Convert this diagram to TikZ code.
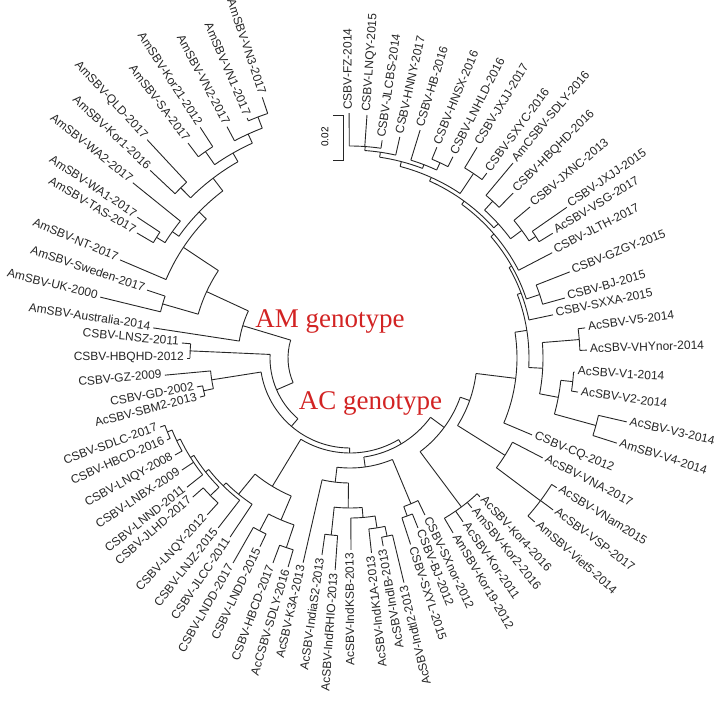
\documentclass[tikz,border=0pt]{standalone}
\usepackage{fontspec}
\setmainfont{Liberation Sans}
\newfontfamily\serifred{Liberation Serif}
\definecolor{genored}{RGB}{210,35,35}
\newcommand\setA[2]{\expandafter\xdef\csname trA:#1\endcsname{#2}}
\newcommand\setR[2]{\expandafter\xdef\csname trR:#1\endcsname{#2}}
\newcommand\getA[1]{\csname trA:#1\endcsname}
\newcommand\getR[1]{\csname trR:#1\endcsname}
\newcommand\leaf[4]{%
  \setA{#1}{#2}\setR{#1}{#3}%
  \pgfmathsetmacro\lfa{mod(#2+720,360)}%
  \pgfmathsetmacro\lfr{#3+3}%
  \pgfmathtruncatemacro\lfs{(\lfa>90.5)*(\lfa<285)}%
  \ifnum\lfs=1
    \pgfmathsetmacro\lfrot{\lfa+180}%
    \node[lbl,anchor=mid east,rotate=\lfrot] (L#1) at (#2:\lfr pt) {#4};%
  \else
    \node[lbl,anchor=mid west,rotate=\lfa] (L#1) at (#2:\lfr pt) {#4};%
  \fi
}
\newcommand\clade[3]{%
  \gdef\cmin{1000}\gdef\cmax{-1000}%
  \foreach \ch in {#3}{%
    \edef\cang{\getA{\ch}}%
    \pgfmathsetmacro\cmid{min(\cmin,\cang)}\xdef\cmin{\cmid}%
    \pgfmathsetmacro\cmid{max(\cmax,\cang)}\xdef\cmax{\cmid}%
  }%
  \draw[br] (\cmin:#2pt) arc[start angle=\cmin, end angle=\cmax, radius=#2pt];%
  \foreach \ch in {#3}{%
    \edef\cang{\getA{\ch}}\edef\crad{\getR{\ch}}%
    \draw[br] (\cang:#2pt) -- (\cang:\crad pt);%
  }%
  \pgfmathsetmacro\cmid{(\cmin+\cmax)/2}%
  \setA{#1}{\cmid}\setR{#1}{#2}%
}
\begin{document}
\begin{tikzpicture}[x=1pt,y=1pt,
  lbl/.style={font=\fontsize{12}{14}\selectfont, inner sep=0pt, text=black!85},
  br/.style={line width=0.9pt, black!85},
  geno/.style={font=\serifred\fontsize{27}{30}\selectfont, text=genored, inner sep=0pt}]
\useasboundingbox (-350,-348) rectangle (367,358);
% leaves
\leaf{FZ}{450.2}{245}{CSBV-FZ-2014}
\leaf{LNQYa}{446.0}{243.6}{CSBV-LNQY-2015}
\leaf{JLCBS}{441.6}{220}{CSBV-JLCBS-2014}
\leaf{HNNY}{437.3}{226.6}{CSBV-HNNY-2017}
\leaf{HB}{432.9}{238.5}{CSBV-HB-2016}
\leaf{HNSX}{427.6}{228}{CSBV-HNSX-2016}
\leaf{LNHLD}{422.9}{226}{CSBV-LNHLD-2016}
\leaf{JXJJa}{418.9}{246}{CSBV-JXJJ-2017}
\leaf{SXYC}{413.5}{230}{CSBV-SXYC-2016}
\leaf{AmSDLY}{410.1}{254}{AmCSBV-SDLY-2016}
\leaf{HBQHDa}{405.3}{232}{CSBV-HBQHD-2016}
\leaf{JXNC}{400.0}{235}{CSBV-JXNC-2013}
\leaf{JXJJb}{394.8}{264}{CSBV-JXJJ-2015}
\leaf{VSG}{391.6}{238}{AcSBV-VSG-2017}
\leaf{JLTH}{387.5}{228}{CSBV-JLTH-2017}
\leaf{GZGY}{381.4}{236}{CSBV-GZGY-2015}
\leaf{BJa}{375.6}{223}{CSBV-BJ-2015}
\leaf{SXXA}{372.0}{207.5}{CSBV-SXXA-2015}
\leaf{Vfive}{367.3}{237}{AcSBV-V5-2014}
\leaf{VHY}{361.9}{237}{AcSBV-VHYnor-2014}
\leaf{Vone}{356.4}{225}{AcSBV-V1-2014}
\leaf{Vtwo}{351.5}{230.5}{AcSBV-V2-2014}
\leaf{Vthree}{347.0}{284}{AcSBV-V3-2014}
\leaf{Vfour}{342.3}{280}{AmSBV-V4-2014}
\leaf{CQ}{337.1}{197.6}{CSBV-CQ-2012}
\leaf{VNA}{332.6}{217}{AcSBV-VNA-2017}
\leaf{VNam}{327.9}{244}{AcSBV-VNam2015}
\leaf{VSP}{323.2}{253.6}{AcSBV-VSP-2017}
\leaf{Viet}{318.4}{247}{AmSBV-Viet5-2014}
\leaf{Korfour}{313.1}{190}{AcSBV-Kor4-2016}
\leaf{Kortwo}{309.1}{193}{AmSBV-Kor2-2016}
\leaf{Kor}{304.6}{199}{AcSBV-Kor-2011}
\leaf{Kornt}{300.5}{203}{AmSBV-Kor19-2012}
\leaf{SXnor}{295.5}{174}{CSBV-SXnor-2012}
\leaf{BJb}{291.8}{183}{CSBV-BJ-2012}
\leaf{SXYL}{288.0}{196}{CSBV-SXYL-2015}
\leaf{Indt}{283.5}{231}{AcSBV-Indtl2-2013}
\leaf{IndIB}{280.0}{191}{AcSBV-IndIB-2013}
\leaf{IndKA}{276.3}{196}{AcSBV-IndK1A-2013}
\leaf{IndKSB}{270.3}{192}{AcSBV-IndKSB-2013}
\leaf{IndRH}{266.0}{212.5}{AcSBV-IndRHIO-2013}
\leaf{IndiaS}{261.9}{199}{AcSBV-IndiaS2-2013}
\leaf{KthreeA}{257.1}{210}{AcSBV-K3A-2013}
\leaf{AcSDLY}{253.5}{218}{AcCSBV-SDLY-2016}
\leaf{HBCDa}{249.4}{219}{CSBV-HBCD-2017}
\leaf{LNDDa}{244.5}{209}{CSBV-LNDD-2015}
\leaf{LNDDb}{240.3}{236}{CSBV-LNDD-2017}
\leaf{JLCC}{236.2}{215.5}{CSBV-JLCC-2011}
\leaf{LNJZ}{232.2}{215}{CSBV-LNJZ-2015}
\leaf{LNQYb}{227.7}{212}{CSBV-LNQY-2012}
\leaf{JLHD}{221.5}{210}{CSBV-JLHD-2017}
\leaf{LNND}{218.4}{208}{CSBV-LNND-2011}
\leaf{LNBX}{213.7}{202}{CSBV-LNBX-2009}
\leaf{LNQYc}{209.0}{200}{CSBV-LNQY-2008}
\leaf{HBCDb}{204.1}{200.5}{CSBV-HBCD-2016}
\leaf{SDLC}{200.0}{202}{CSBV-SDLC-2017}
\leaf{SBM}{194.6}{155}{AcSBV-SBM2-2013}
\leaf{GD}{190.7}{155.7}{CSBV-GD-2002}
\leaf{GZ}{185.3}{186}{CSBV-GZ-2009}
\leaf{HBQHDb}{180.0}{163}{CSBV-HBQHD-2012}
\leaf{LNSZ}{174.9}{168.7}{CSBV-LNSZ-2011}
\leaf{Aus}{171.3}{199}{AmSBV-Australia-2014}
\leaf{UK}{166.3}{257}{AmSBV-UK-2000}
\leaf{Swe}{161.5}{214}{AmSBV-Sweden-2017}
\leaf{NT}{156.9}{250}{AmSBV-NT-2017}
\leaf{TAS}{149.6}{247}{AmSBV-TAS-2017}
\leaf{WAone}{146.5}{255}{AmSBV-WA1-2017}
\leaf{WAtwo}{141.1}{279}{AmSBV-WA2-2017}
\leaf{Korone}{136.8}{274}{AmSBV-Kor1-2016}
\leaf{QLD}{132.9}{298}{AmSBV-QLD-2017}
\leaf{SA}{127.0}{269}{AmSBV-SA-2017}
\leaf{Kortwoone}{123.0}{275}{AmSBV-Kor21-2012}
\leaf{VNtwo}{118.0}{262}{AmSBV-VN2-2017}
\leaf{VNone}{113.2}{261}{AmSBV-VN1-2017}
\leaf{VNthree}{108.6}{275}{AmSBV-VN3-2017}
% AC clade
\clade{Ea}{212}{FZ,LNQYa,JLCBS}
\clade{Eb}{208}{Ea,HNNY}
\clade{Ec}{215}{HNSX,LNHLD}
\clade{Ed}{207}{HB,Ec}
\clade{E}{203}{Eb,Ed}
\clade{Ee}{222}{JXJJa,SXYC}
\clade{Cf}{198}{E,Ee}
\clade{Da}{212}{AmSDLY,HBQHDa}
\clade{Dc}{222}{JXJJb,VSG}
\clade{Db}{214}{JXNC,Dc}
\clade{D}{200}{Da,Db}
\clade{Cd}{194}{D,Cf}
\clade{Cc}{190}{JLTH,Cd}
\clade{G}{200}{GZGY,BJa}
\clade{Cb}{186}{G,Cc}
\clade{Ca}{183}{SXXA,Cb}
\clade{Vp}{230}{Vfive,VHY}
\clade{Va}{224}{Vone,Vtwo}
\clade{Vb}{255}{Vthree,Vfour}
\clade{Vq}{212}{Va,Vb}
\clade{V}{193}{Vp,Vq}
\clade{B}{179}{V,Ca}
\clade{M}{167}{CQ,B}
\clade{VNg}{238}{VNam,VSP,Viet}
\clade{VNb}{183}{VNA,VNg}
\clade{Xsix}{127}{VNb,M}
\clade{KR}{186}{Korfour,Kortwo,Kor,Kornt}
\clade{Xfive}{117}{KR,Xsix}
\clade{CNtwoa}{168}{BJb,SXYL}
\clade{CNtwo}{158}{SXnor,CNtwoa}
\clade{Id}{182}{IndIB,Indt}
\clade{Ic}{172}{IndKA,Id}
\clade{Ib}{160}{IndKSB,Ic}
\clade{Ia}{178}{IndiaS,IndRH}
\clade{INb}{150}{Ia,Ib}
\clade{IN}{125}{KthreeA,INb}
\clade{Yone}{110}{IN,CNtwo}
\clade{Xthree}{100}{Yone,Xfive}
\clade{La}{195}{LNDDb,LNDDa}
\clade{Lb}{200}{HBCDa,AcSDLY}
\clade{CNthreeb}{176}{La,Lb}
\clade{Lfp}{197}{HBCDb,SDLC}
\clade{Lfive}{192}{LNQYc,Lfp}
\clade{Lfour}{188}{LNND,LNBX,Lfive}
\clade{Ltp}{196}{LNQYb,JLHD}
\clade{Lthree}{184}{Ltp,Lfour}
\clade{Ltwo}{180}{LNJZ,Lthree}
\clade{Lone}{176}{JLCC,Ltwo}
\clade{CNthree}{150}{Lone,CNthreeb}
\clade{Xtwo}{95}{CNthree,Xthree}
\clade{CNfoura}{150}{GD,SBM}
\clade{CNfour}{140}{GZ,CNfoura}
\clade{Xone}{90}{CNfour,Xtwo}
\clade{CNfive}{160}{LNSZ,HBQHDb}
\clade{AC}{80}{CNfive,Xone}
% AM clade
\clade{ASU}{195}{Swe,UK}
\clade{AWTp}{228}{WAone,TAS}
\clade{AWT}{218}{WAtwo,AWTp}
\clade{AQK}{240}{QLD,Korone}
\clade{AKS}{252}{SA,Kortwoone}
\clade{ASixp}{258}{VNone,VNthree}
\clade{ASix}{246}{VNtwo,ASixp}
\clade{AFive}{236}{AKS,ASix}
\clade{AFour}{226}{AQK,AFive}
\clade{AThree}{210}{AWT,AFour}
\clade{ATwo}{200}{NT,AThree}
\clade{AOne}{158}{ASU,ATwo}
\clade{AM}{112}{Aus,AOne}
\clade{ROOT}{62}{AM,AC}
% genotype labels
\node[geno, anchor=base] (amg) at (-20,30) {AM genotype};
\node[geno, anchor=base] (acg) at (20.5,-52) {AC genotype};
% scale bar
\coordinate (sbt) at (-7,243);
\coordinate (sbb) at (-7,198);
\draw[br] ([xshift=-10pt]sbt) -- (sbt) -- (sbb) -- ([xshift=-10pt]sbb);
\node[font=\fontsize{10}{12}\selectfont, rotate=90, inner sep=0pt] (sbl) at (-25,221) {0.02};
\end{tikzpicture}
\end{document}
